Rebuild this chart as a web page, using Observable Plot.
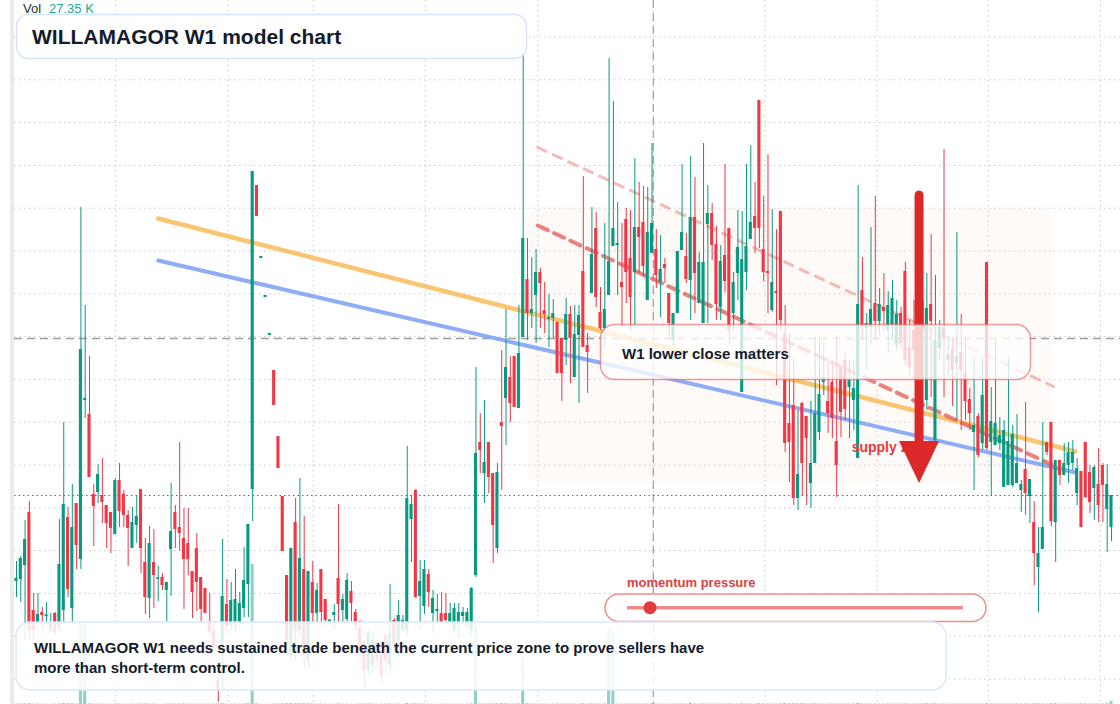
<!DOCTYPE html>
<html><head><meta charset="utf-8">
<script src="https://cdn.jsdelivr.net/npm/d3@7"></script>
<script src="https://cdn.jsdelivr.net/npm/@observablehq/plot@0.6"></script>
<style>
body{margin:0;background:#fff;}
#wrap{position:relative;width:1120px;height:704px;overflow:hidden;background:#fff;font-family:"Liberation Sans",Arial,sans-serif;}
#wrap > svg{position:absolute;left:0;top:0;}
</style></head><body><div id="wrap"></div>
<script>
// ---- candle data (price units) ----
const opens = [
1.23,1.25,1.39,1.92,0.94,0.81,0.92,0.88,0.74,0.91, 0.76,0.94,1.87,0.96,2.01,1.45,3.04,2.90,2.10,2.12,
2.09,1.99,1.92,1.70,2.24,2.10,1.89,1.56,1.79,2.15, 1.42,1.06,1.42,1.25,1.27,1.14,1.55,1.92,1.77,1.66,
1.61,1.33,1.56,1.27,1.16,0.82,0.74,0.24,0.49,1.00, 0.79,0.79,0.81,0.96,1.20,2.15,5.19,4.46,4.07,3.69,
3.34,2.68,2.08,1.29,0.49,1.82,0.74,1.35,0.44,1.22, 0.91,1.35,1.05,0.83,0.89,1.26,0.94,0.85,1.13,0.92,
0.76,0.61,0.34,0.39,0.62,0.49,0.69,0.39,0.84,0.64, 0.74,0.74,1.85,2.14,1.08,0.98,1.30,0.91,0.93,0.91,
0.91,0.82,0.74,0.79,0.88,0.82,0.74,1.29,2.62,2.31, 2.62,2.31,1.56,2.82,3.06,3.27,3.48,2.96,3.67,4.25,
3.91,4.09,4.32,3.94,3.85,3.86,3.82,3.66,3.64,3.90, 3.27,3.69,4.33,3.59,4.11,4.76,3.92,3.76,4.09,4.58,
4.59,4.22,4.85,4.46,4.32,4.77,4.82,4.04,4.51,4.55, 4.22,4.40,4.11,3.64,3.91,4.54,4.48,4.24,4.87,4.01,
3.81,4.80,4.91,4.60,3.97,4.49,4.76,3.91,4.31,3.12, 4.32,4.65,4.88,6.04,4.55,4.33,3.94,4.13,4.93,3.71,
2.81,2.99,2.06,3.01,2.88,2.21,2.41,2.72,3.22,3.03, 3.22,2.63,3.37,3.44,3.17,3.04,2.46,4.14,3.76,3.77,
4.01,3.83,3.97,3.74,3.79,3.59,3.91,4.33,3.57,3.74, 3.44,4.04,3.04,4.00,2.64,3.56,3.76,3.44,3.55,3.41,
3.52,3.31,3.05,2.72,2.88,2.61,4.42,2.62,2.59,2.61, 2.17,2.19,2.19,2.21,2.14,2.35,2.08,1.82,1.37,1.55,
2.62,2.82,1.82,2.44,2.29,2.39,2.41,2.11,2.33,2.62, 2.32,2.16,2.20,2.39,1.95,1.77];
const closes = [
1.26,1.46,1.65,0.74,0.74,0.90,0.89,0.89,0.82,0.71, 1.40,2.00,1.15,1.77,1.59,3.55,3.06,2.27,1.98,2.30,
2.02,1.81,1.76,2.24,1.93,1.89,1.76,1.82,1.88,1.56, 1.07,1.61,1.29,1.26,1.19,1.22,1.73,1.75,1.71,1.45,
1.45,1.12,1.22,0.95,0.91,0.72,0.56,0.14,1.08,0.78, 1.04,1.05,1.01,1.24,1.80,5.33,4.88,4.48,4.09,3.71,
2.99,2.36,1.53,0.64,1.56,0.74,1.46,0.49,1.33,0.91, 1.14,0.92,0.84,0.84,0.92,1.00,1.05,1.24,1.01,0.79,
0.54,0.34,0.71,0.64,0.44,0.29,0.44,0.71,0.59,0.89, 0.84,2.06,2.00,1.07,1.23,1.35,1.12,1.06,0.95,0.82,
0.84,0.91,0.96,0.92,0.92,0.92,1.16,2.51,2.54,2.42, 2.27,1.79,2.32,2.78,3.37,3.01,2.97,3.51,4.66,3.91,
3.95,4.32,4.21,3.90,3.86,3.91,3.31,3.31,3.90,3.66, 3.70,3.89,3.57,3.52,4.50,4.07,3.76,3.95,4.43,4.76,
4.61,4.17,4.32,4.07,4.77,4.67,4.38,4.72,4.81,4.29, 4.35,4.36,3.81,3.91,4.53,4.72,4.25,4.87,4.31,4.42,
4.42,4.91,4.59,4.00,4.43,4.23,3.74,4.22,4.57,4.45, 4.58,4.82,4.76,4.76,4.32,4.31,4.22,4.11,3.84,2.61,
2.62,2.06,2.30,2.41,2.66,2.41,2.91,3.10,3.27,2.91, 2.86,2.39,2.92,2.95,3.24,3.16,4.00,3.79,3.81,3.95,
3.83,4.00,3.93,3.99,4.06,3.90,3.61,3.44,3.37,3.54, 3.84,3.74,3.96,3.83,3.64,3.77,3.66,3.50,3.34,3.48,
3.34,3.03,2.91,2.79,2.49,3.09,2.56,2.83,2.81,2.69, 2.74,2.63,2.70,2.41,2.20,2.11,2.25,1.51,1.51,1.77,
2.52,1.83,2.44,2.29,2.41,2.52,2.52,2.36,1.77,2.07, 2.02,2.37,1.99,2.19,2.20,2.09];
const highs = [
1.43,1.48,1.84,2.03,1.11,1.11,0.97,1.02,0.91,0.92, 1.85,2.82,1.97,2.20,2.01,4.97,3.99,3.48,2.20,2.40,
2.46,1.99,1.92,2.26,2.41,2.14,1.94,1.97,2.09,2.15, 1.66,1.78,1.75,1.38,1.31,1.22,2.21,1.99,2.62,1.96,
1.96,1.33,1.71,1.27,1.16,1.11,0.80,0.29,1.65,1.25, 1.22,1.35,1.12,1.57,1.80,5.33,5.19,4.48,4.09,3.71,
3.34,2.68,2.08,1.29,1.56,2.06,2.26,1.88,1.33,1.43, 1.21,1.35,1.05,0.84,1.00,2.00,1.10,1.31,1.23,0.95,
0.84,0.64,0.74,0.71,0.66,0.52,0.69,1.20,0.86,1.04, 0.89,2.58,2.09,2.15,1.44,1.44,1.35,1.14,1.10,1.12,
1.11,1.01,1.01,1.01,0.97,0.96,1.17,3.37,2.91,3.04, 2.62,2.31,2.41,3.54,3.95,3.48,3.48,3.99,6.49,4.66,
4.47,4.55,4.36,4.22,4.10,4.05,3.82,3.66,4.06,3.98, 3.99,3.99,5.28,3.71,4.97,4.92,4.17,4.81,6.46,6.03,
5.02,4.81,4.96,4.94,5.46,5.22,5.18,5.17,5.61,4.75, 4.69,4.46,4.11,3.91,4.53,5.40,4.71,5.48,5.27,4.52,
5.61,5.19,5.01,4.78,4.59,5.40,4.76,4.32,4.94,4.93, 5.40,5.59,5.22,6.04,5.08,5.50,4.95,4.75,4.93,3.99,
3.71,3.46,2.94,3.02,2.88,3.03,3.67,3.67,3.61,3.47, 3.44,3.69,3.37,3.51,3.44,3.44,5.19,4.47,3.91,4.77,
5.08,4.16,4.31,4.13,4.24,4.04,3.97,4.42,3.84,4.04, 4.14,4.24,4.31,4.70,4.29,3.84,5.55,3.68,3.67,4.72,
3.90,3.67,3.16,3.47,2.91,3.47,4.42,3.17,3.66,2.87, 2.84,3.47,2.79,2.90,2.24,3.02,2.25,2.03,1.77,2.82,
2.62,2.82,2.44,2.44,2.61,2.62,2.64,2.46,2.33,2.62, 2.39,2.39,2.56,2.41,2.40,2.09];
const lows = [
1.07,1.02,0.64,0.64,0.64,0.74,0.74,0.79,0.71,0.68, 0.72,0.81,1.07,0.81,1.35,1.35,2.86,2.27,1.58,2.01,
1.81,1.56,1.51,1.70,1.77,1.77,1.38,1.56,1.61,1.31, 0.90,0.86,0.96,1.03,1.14,0.81,1.08,1.56,1.53,0.95,
1.29,0.86,0.93,0.82,0.91,0.69,0.51,0.02,0.14,0.69, 0.74,0.72,0.76,0.87,0.87,1.83,4.88,4.46,4.07,3.69,
2.99,2.36,1.53,0.54,0.44,0.44,0.69,0.37,0.36,0.82, 0.82,0.79,0.79,0.82,0.74,0.82,0.82,0.82,0.82,0.74,
0.44,0.17,0.29,0.31,0.37,0.21,0.31,0.31,0.51,0.47, 0.71,0.69,1.42,1.06,0.74,0.90,0.97,0.71,0.82,0.80,
0.80,0.79,0.71,0.66,0.80,0.77,0.67,1.27,2.31,2.01, 2.11,1.41,1.51,2.14,2.59,2.82,2.97,2.96,3.67,3.64,
3.76,3.61,3.76,3.71,3.57,3.66,3.31,3.03,3.39,3.21, 3.27,3.01,3.57,3.11,4.11,3.97,3.74,3.57,4.09,4.58,
4.09,3.77,4.01,3.74,3.77,4.31,4.27,4.04,4.51,4.16, 3.87,4.21,3.64,3.59,3.91,4.54,4.21,3.84,3.91,4.01,
3.81,3.81,4.44,3.84,3.84,4.12,3.59,3.74,4.04,3.12, 4.14,4.65,4.51,4.56,4.23,3.91,3.92,3.19,3.74,2.52,
2.22,1.99,1.94,2.09,1.99,1.96,2.41,2.64,3.09,2.71, 2.66,2.07,2.67,2.84,2.66,2.74,2.46,3.64,3.34,3.59,
3.64,3.69,3.74,3.52,3.64,3.54,3.56,3.39,3.29,3.24, 3.34,3.59,2.94,3.07,2.59,3.44,3.07,3.29,2.98,2.84,
2.74,2.84,2.74,2.14,2.47,2.54,2.54,2.09,2.59,2.54, 2.17,2.19,2.17,2.21,1.92,1.89,1.81,1.19,0.92,1.55,
2.49,1.78,1.42,2.19,2.29,2.21,2.34,1.99,1.77,2.06, 1.91,1.84,1.82,1.82,1.52,1.63];
// volume in K
const volumes = [
4,5,6,7,3,4,2,3,2,3,5,8,6,7,5,730,
720,6,4,3,4,3,3,5,4,3,3,4,3,5,6,5,
4,2,2,3,5,4,4,5,4,3,4,3,3,3,4,6,
7,4,3,4,3,5,8,1260,6,2,2,2,5,5,6,7,
8,7,6,7,6,4,3,4,3,2,2,5,3,4,3,3,
4,5,5,4,3,4,4,6,3,4,2,9,5,7,4,4,
3,3,2,3,3,3,3,3,2,3,5,711,6,5,5,6,
6,7,6,5,5,6,423,7,4,5,4,4,3,3,5,5,
4,4,5,4,7,4,6,6,4,5,666,650,4,4,5,5,
6,4,5,5,6,4,4,3,4,4,5,5,4,12,5,4,
6,4,4,5,4,5,6,4,4,7,5,5,4,8,5,5,
4,4,6,9,6,8,6,7,5,5,6,5,4,4,5,6,
5,5,4,4,9,6,4,5,5,4,4,5,4,4,4,6,
5,5,5,6,7,5,7,4,6,4,4,5,4,5,4,5,
5,5,8,5,5,4,5,5,5,5,4,5,4,6,7,6,
4,6,7,4,4,4,4,5,6,6,5,5,6,5,7,27.35];

// grid / guides
const gridPrices = [6.675,6.247,5.819,5.391,4.963,4.535,4.107,3.679,3.251,2.823,2.395,1.967,1.539,1.111,0.683,0.255];
const gridIdx = [23.1,49.3,69.1,95.2,121.4,148.3,174.3,200.4,226.3,252.4];
const crossPrice = 3.66, crossIdx = 148.3;
// overlay lines
const trendIdx = [33, 246.6];
const orangeVals = [4.86, 2.53];
const blueVals = [4.44, 2.32];
const upperIdx = [121.4, 241.5], upperVals = [5.57, 3.18];
const lowerIdx = [121.4, 241.0], lowerVals = [4.79, 2.40];
const zoneIdx = [119.1, 241.5], zoneVals = [2.20, 4.96];
const arrowIdx = 210.3, arrowVals = [5.09, 2.63, 2.21];
const supplyPos = [194.6, 2.52];

const UP = "#089981", DOWN = "#f23645";
const n = opens.length;
const candles = d3.range(n).map(i => {
  const o = opens[i], c = closes[i];
  const lo = Math.min(o, c), hi = Math.max(Math.max(o, c), lo + 0.016);
  return {i, o, c, h: highs[i], l: lows[i], v: volumes[i], up: c >= o, b1: lo, b2: hi};
});
const xs = {domain: [0, n - 1], range: [16, 1111], axis: null};

const wrap = document.getElementById("wrap");

// volume layer
const vol = Plot.plot({
  width: 1120, height: 704, margin: 0,
  style: {background: "transparent"},
  x: xs,
  y: {domain: [0, 1800], range: [704, 504], axis: null},
  marks: [
    Plot.rect(candles, {x1: d => d.i - 0.36, x2: d => d.i + 0.36, y1: 0, y2: "v",
      fill: d => d.up ? UP : DOWN, fillOpacity: 0.45})
  ]
});
wrap.appendChild(vol);

const dotted = {stroke: "#c9c9c9", strokeDasharray: "1.5,3.5", strokeWidth: 1};
const main = Plot.plot({
  width: 1120, height: 704, margin: 0,
  style: {background: "transparent"},
  x: xs,
  y: {domain: [0, 7.04], range: [704, 0], axis: null},
  marks: [
    Plot.rect([0], {x1: zoneIdx[0], x2: zoneIdx[1], y1: zoneVals[0], y2: zoneVals[1], rx: 14, fill: "#fdfaf7"}),
    Plot.ruleY(gridPrices, {...dotted, x1: -0.47, x2: n + 4}),
    Plot.ruleX(gridIdx, dotted),
    Plot.ruleY([crossPrice], {stroke: "#9e9e9e", strokeDasharray: "8,5", strokeWidth: 1.3, x1: -0.47, x2: n + 4}),
    Plot.ruleX([crossIdx], {stroke: "#9e9e9e", strokeDasharray: "8,5", strokeWidth: 1.2}),
    Plot.line(trendIdx.map((x, k) => ({x, y: orangeVals[k]})), {x: "x", y: "y", stroke: "#f8c065", strokeWidth: 4.5, strokeOpacity: 0.92}),
    Plot.line(trendIdx.map((x, k) => ({x, y: blueVals[k]})), {x: "x", y: "y", stroke: "#86a5f6", strokeWidth: 4, strokeOpacity: 0.92}),
    Plot.line(upperIdx.map((x, k) => ({x, y: upperVals[k]})), {x: "x", y: "y", stroke: "#ef8c8c", strokeOpacity: 0.6, strokeWidth: 3, strokeDasharray: "9,8"}),
    Plot.line(lowerIdx.map((x, k) => ({x, y: lowerVals[k]})), {x: "x", y: "y", stroke: "#e45a5a", strokeOpacity: 0.75, strokeWidth: 4, strokeDasharray: "11,7"}),
    Plot.ruleX(candles, {x: "i", y1: "l", y2: "h", stroke: d => d.up ? UP : DOWN, strokeWidth: 1}),
    Plot.rect(candles, {x1: d => d.i - 0.36, x2: d => d.i + 0.36, y1: "b1", y2: "b2", fill: d => d.up ? UP : DOWN}),
    Plot.ruleY([closes[n - 1]], {stroke: UP, strokeDasharray: "1.5,3", strokeWidth: 1.2, x1: -0.47, x2: n + 4})
  ]
});
wrap.appendChild(main);

// annotation layer
const sx = main.scale("x"), sy = main.scale("y");
const FONT = '"Liberation Sans", Arial, sans-serif';
const ink = "#131b2c";
const svg = d3.create("svg").attr("width", 1120).attr("height", 704)
  .style("font-family", FONT);
svg.append("rect").attr("x", 10).attr("y", 0).attr("width", 4).attr("height", 704).attr("fill", "#ebebeb");

// supply zone text
svg.append("text").attr("x", sx.apply(supplyPos[0])).attr("y", sy.apply(supplyPos[1]))
  .attr("font-size", 14).attr("font-weight", "bold").attr("fill", "#e23c3c").text("supply zone");
// arrow
const ax = sx.apply(arrowIdx);
const yTop = sy.apply(arrowVals[0]), yBase = sy.apply(arrowVals[1]), yTip = sy.apply(arrowVals[2]);
svg.append("line").attr("x1", ax).attr("x2", ax).attr("y1", yTop).attr("y2", yBase + 4)
  .attr("stroke", "#dc2828").attr("stroke-width", 9).attr("stroke-linecap", "round");
svg.append("path").attr("d", `M${ax - 20},${yBase} L${ax + 20},${yBase} L${ax},${yTip} Z`).attr("fill", "#dc2828");

// label box
svg.append("rect").attr("x", 600.5).attr("y", 324.5).attr("width", 430).attr("height", 55).attr("rx", 14)
  .attr("fill", "rgba(255,255,255,0.78)").attr("stroke", "rgba(230,90,90,0.6)").attr("stroke-width", 1.5);
svg.append("text").attr("x", 622).attr("y", 359).attr("font-size", 15).attr("font-weight", "bold").attr("fill", ink)
  .text("W1 lower close matters");

// momentum pressure
svg.append("text").attr("x", 627).attr("y", 586.5).attr("font-size", 13).attr("font-weight", "bold").attr("fill", "#e0403f")
  .text("momentum pressure");
svg.append("rect").attr("x", 605).attr("y", 594).attr("width", 381).attr("height", 27.5).attr("rx", 13.75)
  .attr("fill", "#fff").attr("stroke", "#ef8e8e").attr("stroke-width", 1.5);
svg.append("line").attr("x1", 627).attr("x2", 963).attr("y1", 607.7).attr("y2", 607.7)
  .attr("stroke", "#ef8a8a").attr("stroke-width", 3.5);
svg.append("circle").attr("cx", 650).attr("cy", 607.7).attr("r", 6.5).attr("fill", "#e03a3a");

// bottom text box
svg.append("rect").attr("x", 16).attr("y", 622).attr("width", 930).attr("height", 68).attr("rx", 14)
  .attr("fill", "rgba(255,255,255,0.86)").attr("stroke", "#dbe7fa").attr("stroke-width", 1.5);
const bt = svg.append("text").attr("font-size", 15).attr("font-weight", "bold").attr("fill", ink);
bt.append("tspan").attr("x", 34).attr("y", 652.7).text("WILLAMAGOR W1 needs sustained trade beneath the current price zone to prove sellers have");
bt.append("tspan").attr("x", 34).attr("y", 672.7).text("more than short-term control.");

// title box
svg.append("rect").attr("x", 16.5).attr("y", 14.5).attr("width", 510).attr("height", 44).attr("rx", 12)
  .attr("fill", "#fff").attr("stroke", "#d6e4f7").attr("stroke-width", 1.5);
svg.append("text").attr("x", 32).attr("y", 43.5).attr("font-size", 21).attr("font-weight", "bold").attr("fill", ink)
  .text("WILLAMAGOR W1 model chart");

// Vol readout
svg.append("text").attr("x", 23).attr("y", 13.3).attr("font-size", 13).attr("fill", "#2a2e39").text("Vol");
svg.append("text").attr("x", 49).attr("y", 13.3).attr("font-size", 13).attr("fill", "#22ab94")
  .text(`${volumes[n - 1].toFixed(2)} K`);

wrap.appendChild(svg.node());
</script>
</body></html>
